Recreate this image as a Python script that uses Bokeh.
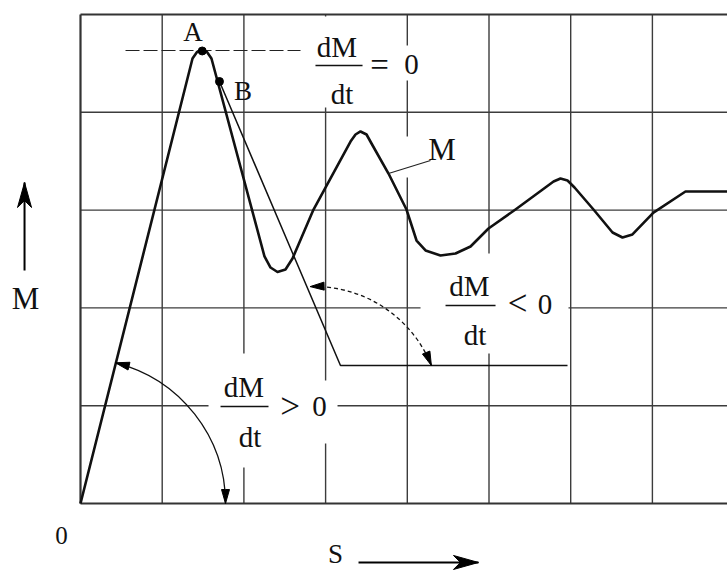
import numpy as np
from bokeh.plotting import figure
from bokeh.models import Range1d
from bokeh.core.properties import value
from bokeh.embed import file_html
from bokeh.resources import INLINE

# ---- data (grid units: 1 column / 1 row of the chart grid) ----
grid_cols = [0, 1, 2, 3, 4, 5, 6, 7]
grid_rows = [0, 1, 2, 3, 4, 5]
x_right = 7.92

# curve M(S)
m_x = [0.0, 1.371, 1.426, 1.487, 1.548, 1.603, 2.252, 2.326, 2.411, 2.509, 2.595,
       2.852, 3.305, 3.366, 3.427, 3.501, 3.562, 3.770, 3.990, 4.113, 4.223, 4.406,
       4.590, 4.774, 4.994, 5.324, 5.790, 5.875, 5.961, 6.047, 6.279, 6.512, 6.634,
       6.756, 7.013, 7.405, 7.92]
m_y = [0.0, 4.550, 4.617, 4.637, 4.617, 4.550, 2.526, 2.413, 2.367, 2.393, 2.505,
       3.006, 3.701, 3.773, 3.804, 3.773, 3.681, 3.374, 3.006, 2.689, 2.587, 2.536,
       2.556, 2.628, 2.812, 3.006, 3.292, 3.323, 3.303, 3.231, 3.006, 2.771, 2.720,
       2.751, 2.975, 3.190, 3.190]

# points A and B
pt_names = ["A", "B"]
pt_x = [1.490, 1.701]
pt_y = [4.627, 4.315]

# tangent line from B, then horizontal
tan_x = [1.701, 3.182, 5.961]
tan_y = [4.315, 1.411, 1.411]

# dashed horizontal tangent at A
dash_x = [0.551, 2.693]
dash_y = [4.632, 4.632]

# leader line for label M
lead_x = [3.770, 4.284]
lead_y = [3.374, 3.507]

# text labels
lab_text = ["A", "B", "M", "dM", "dt", "=", "0", "dM", "dt", "<", "0", "dM", "dt", ">", "0", "M", "0", "S"]
lab_x = [1.377, 1.989, 4.425, 3.139, 3.201, 3.660, 4.051, 4.761, 4.829, 5.349, 5.685,
         2.001, 2.075, 2.565, 2.925, -0.673, -0.233, 3.121]
lab_y = [4.821, 4.213, 3.620, 4.668, 4.182, 4.479, 4.489, 2.219, 1.728, 2.045, 2.035,
         1.196, 0.685, 0.992, 0.992, 2.101, -0.327, -0.52]
lab_size = ["27px", "27px", "31px", "29px", "29px", "33px", "29px", "29px", "29px", "35px", "29px",
            "29px", "29px", "35px", "29px", "31px", "25px", "27px"]

# fraction bars
bar_x0 = [2.876, 4.468, 1.714]
bar_x1 = [3.452, 5.080, 2.301]
bar_y = [4.479, 2.025, 0.992]

# white backgrounds behind texts (interrupt the grid)
box_l = [2.815, 3.501, 3.892, 4.162, 1.567, 2.340]
box_r = [3.476, 4.223, 4.676, 5.973, 2.350, 3.146]
box_b = [4.049, 4.325, 3.333, 1.534, 0.368, 0.613]
box_t = [4.980, 4.683, 3.753, 2.556, 1.534, 1.258]

# angle arcs: centre (grid units), radius (px), start/end angle (deg)
arc_cx = [0.0, 2.864]
arc_cy = [0.0, 0.930]
arc_r = [145, 126]
arc_a0 = [0.0, 21.9]
arc_a1 = [76.07, 92.0]
arc_dash = ["solid", "4 3"]

# axis arrows (outside the grid)
ax_x0 = [-0.685, 3.403]
ax_y0 = [2.382, -0.603]
ax_x1 = [-0.685, 4.871]
ax_y1 = [3.282, -0.603]

# ---- figure ----
W, H = 727, 573
XR = (-0.9792, 7.9192)
YR = (-0.7157, 5.1431)
SX = W / (XR[1] - XR[0])
SY = H / (YR[1] - YR[0])

p = figure(width=W, height=H, x_range=Range1d(*XR), y_range=Range1d(*YR),
           output_backend="svg", toolbar_location=None, min_border=0)
p.axis.visible = False
p.grid.visible = False
p.outline_line_color = None
p.background_fill_color = "white"
p.border_fill_color = "white"

GC = "#3c3c3c"
# grid
p.segment(x0=grid_cols[1:], y0=[grid_rows[0]] * 7, x1=grid_cols[1:], y1=[grid_rows[-1]] * 7,
          line_color=GC, line_width=1.4)
p.segment(x0=[0] * 4, y0=grid_rows[1:-1], x1=[x_right] * 4, y1=grid_rows[1:-1],
          line_color=GC, line_width=1.4)
# white boxes
p.quad(left=box_l, right=box_r, bottom=box_b, top=box_t, fill_color="white", line_color=None)
# frame lines
p.segment(x0=[0, 0, 0], y0=[0, 0, 5], x1=[0, x_right, x_right], y1=[5, 0, 5],
          line_color="#333333", line_width=2.2)

# dashed tangent at A
p.line(dash_x, dash_y, line_color="#222222", line_width=1.2, line_dash="14 4")
# tangent line from B
p.line(tan_x, tan_y, line_color="#111111", line_width=1.5)
# curve M
p.line(m_x, m_y, line_color="#111111", line_width=2.6, line_join="round")
# leader
p.line(lead_x, lead_y, line_color="#222222", line_width=1.2)
# points
p.scatter(pt_x, pt_y, size=8, color="black")


def head(tx, ty, ang, L, Wd, notch=0.0):
    a = np.radians(ang)
    ux, uy = np.cos(a), np.sin(a)
    nx, ny = -uy, ux
    bx, by = -L * ux, -L * uy
    pts = [(0, 0), (bx + Wd / 2 * nx, by + Wd / 2 * ny),
           (-(L - notch) * ux, -(L - notch) * uy), (bx - Wd / 2 * nx, by - Wd / 2 * ny)]
    return [tx + q[0] / SX for q in pts], [ty + q[1] / SY for q in pts]


hx, hy = [], []
for cx, cy, r, a0, a1, dsh in zip(arc_cx, arc_cy, arc_r, arc_a0, arc_a1, arc_dash):
    p.arc(x=[cx], y=[cy], radius=r, radius_units="screen",
          start_angle=np.radians(a0), end_angle=np.radians(a1),
          line_color="#111111", line_width=1.3, line_dash=dsh)
    for ang, d in ((a0, a0 - 90), (a1, a1 + 90)):
        tx = cx + r * np.cos(np.radians(ang)) / SX
        ty = cy + r * np.sin(np.radians(ang)) / SY
        xs, ys = head(tx, ty, d, 14, 8, 0)
        hx.append(xs)
        hy.append(ys)

# axis arrows
p.segment(x0=ax_x0, y0=ax_y0, x1=ax_x1, y1=ax_y1, line_color="black", line_width=2)
for x0, y0, x1, y1 in zip(ax_x0, ax_y0, ax_x1, ax_y1):
    ang = np.degrees(np.arctan2((y1 - y0) * SY, (x1 - x0) * SX))
    xs, ys = head(x1, y1, ang, 25, 14, 7)
    hx.append(xs)
    hy.append(ys)
p.patches(hx, hy, fill_color="black", line_color="black", line_width=1)

# fraction bars
p.segment(x0=bar_x0, y0=bar_y, x1=bar_x1, y1=bar_y, line_color="#111111", line_width=1.5)

# texts
p.text(x=lab_x, y=lab_y, text=lab_text, text_font=value("Liberation Serif"),
       text_font_size=lab_size,
       text_align="center", text_baseline="middle", text_color="#111111")

open("out.html", "w").write(file_html(p, INLINE))
